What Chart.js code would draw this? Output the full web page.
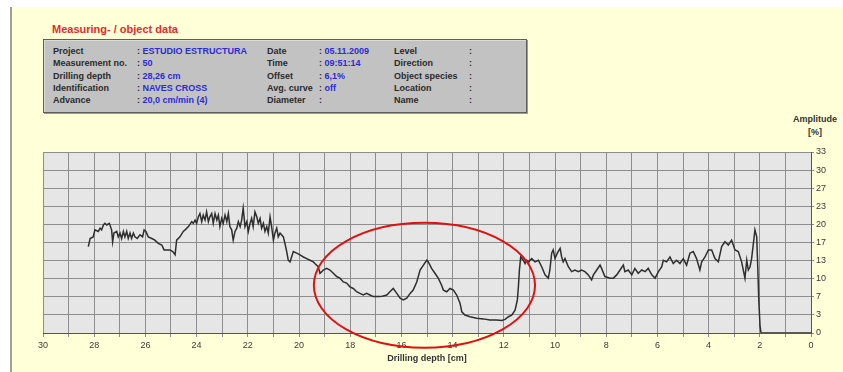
<!DOCTYPE html>
<html>
<head>
<meta charset="utf-8">
<script src="https://cdn.jsdelivr.net/npm/chart.js@4.4.1/dist/chart.umd.min.js"></script>
<style>
  html, body { margin: 0; padding: 0; background: #fff; width: 843px; height: 372px; overflow: hidden; }
  #page { position: absolute; left: 10px; top: 7px; width: 833px; height: 365px; background: #ffffd8; border-left: 2px solid #a0a090; box-sizing: border-box; }
  #heading { position: absolute; left: 52px; top: 23px; color: #e62a2a; font: bold 11px "Liberation Sans", Arial, sans-serif; }
  #infobox { position: absolute; left: 43px; top: 39px; width: 484px; height: 74px; background: #c2c2c2; border: 1px solid #5e5e5e; box-shadow: inset 1px 1px 0 #dadada, 1px 1px 0 #9a9a9a; box-sizing: border-box; }
  .cell { position: absolute; font: bold 9px "Liberation Sans", Arial, sans-serif; line-height: 12px; white-space: nowrap; color: #2a2a2a; }
  .val { color: #2b2bd6; }
  .axlabel { position: absolute; font: bold 9px "Liberation Sans", Arial, sans-serif; line-height: 13px; color: #333; text-align: center; }
  canvas { position: absolute; left: 0; top: 0; }
</style>
</head>
<body>
<div id="page"></div>
<div id="heading">Measuring- / object data</div>
<div id="infobox"></div>
<div class="axlabel" style="left:787px;top:113px;width:56px;">Amplitude<br>[%]</div>
<canvas id="chart" width="843" height="372"></canvas>
<script>
const depth = [
  28.23, 28.16, 28.04, 27.97, 27.84, 27.77, 27.71, 27.64, 27.58, 27.51, 27.41, 27.32, 27.28, 27.23, 27.12, 27.06,
  26.99, 26.93, 26.86, 26.80, 26.73, 26.67, 26.60, 26.54, 26.47, 26.41, 26.32, 26.21, 26.11, 26.05,
  25.98, 25.89, 25.75, 25.63, 25.50, 25.36, 25.27, 25.17, 25.04,
  24.93, 24.84, 24.78, 24.65, 24.52, 24.45, 24.32, 24.19, 24.13, 24.06, 24.00,
  23.93, 23.87, 23.80, 23.74, 23.67, 23.61, 23.54, 23.48, 23.41, 23.35, 23.28, 23.21, 23.15, 23.09, 23.02,
  22.96, 22.89, 22.82, 22.76, 22.70, 22.63, 22.57, 22.50, 22.43, 22.37, 22.30, 22.24, 22.18, 22.11, 22.04,
  21.98, 21.91, 21.85, 21.79, 21.72, 21.65, 21.59, 21.52, 21.46, 21.39, 21.33, 21.26, 21.20, 21.13, 21.07,
  21.00, 20.94, 20.87, 20.81, 20.74, 20.61, 20.55, 20.48, 20.42, 20.35, 20.29, 20.22, 20.09,
  19.96, 19.83, 19.70, 19.57, 19.44, 19.38, 19.25, 19.18, 19.11, 19.05,
  18.92, 18.79, 18.66, 18.53, 18.40, 18.27, 18.14, 18.01,
  17.88, 17.75, 17.62, 17.49, 17.36, 17.23, 17.10,
  16.96, 16.84, 16.71, 16.57, 16.45, 16.32, 16.18, 16.05,
  15.93, 15.79, 15.66, 15.54, 15.40, 15.27, 15.14, 15.01,
  14.95, 14.82, 14.69, 14.56, 14.43, 14.36, 14.23, 14.10,
  13.97, 13.84, 13.71, 13.64, 13.52, 13.32, 13.06,
  12.80, 12.54, 12.28, 12.08,
  11.95, 11.82, 11.69, 11.56, 11.47, 11.43, 11.39, 11.34, 11.24, 11.17, 11.11, 11.04,
  10.91, 10.78, 10.65, 10.52, 10.39, 10.26, 10.20, 10.13, 10.07,
  10.00, 9.91, 9.80, 9.74, 9.68, 9.61, 9.48, 9.35, 9.22, 9.09,
  8.96, 8.83, 8.70, 8.57, 8.50, 8.37, 8.24, 8.18, 8.05,
  7.85, 7.72, 7.59, 7.46, 7.33, 7.27, 7.14, 7.00,
  6.88, 6.75, 6.61, 6.48, 6.36, 6.22, 6.09,
  5.96, 5.83, 5.77, 5.64, 5.51, 5.38, 5.25, 5.12,
  4.99, 4.86, 4.73, 4.60, 4.47, 4.34, 4.27, 4.14, 4.01,
  3.88, 3.75, 3.62, 3.49, 3.36, 3.23, 3.10,
  2.97, 2.84, 2.71, 2.58, 2.51, 2.45, 2.38, 2.32, 2.25, 2.19, 2.12, 2.08, 2.04,
  1.99, 1.95, 0
]
const amplitude = [
  15.9, 17.4, 17.7, 19.0, 18.7, 19.3, 19.0, 19.9, 20.2, 19.9, 20.2, 19.0, 16.8, 18.4, 18.7, 17.7,
  18.4, 17.4, 18.7, 17.7, 18.7, 17.4, 18.4, 17.4, 18.4, 17.7, 17.4, 18.1, 17.7, 19.0,
  18.7, 17.7, 17.4, 17.1, 16.5, 16.2, 15.3, 15.3, 15.3,
  15.0, 14.4, 17.1, 17.7, 18.7, 19.0, 19.6, 20.5, 20.2, 20.8, 20.2,
  21.4, 22.0, 20.5, 21.7, 20.8, 22.3, 20.5, 21.4, 22.0, 20.2, 22.0, 20.8, 21.7, 19.6, 21.1,
  20.2, 21.7, 20.5, 22.0, 19.6, 19.0, 17.1, 18.7, 19.3, 20.5, 19.6, 20.8, 23.0, 19.6, 20.5,
  18.7, 20.2, 21.1, 19.6, 22.3, 21.4, 20.2, 21.1, 19.3, 20.2, 18.7, 19.6, 18.4, 21.4, 19.6,
  17.1, 18.4, 19.3, 17.7, 18.4, 17.7, 16.5, 15.0, 13.4, 13.1, 14.0, 15.0, 14.7,
  14.4, 14.0, 13.7, 13.4, 13.1, 12.8, 12.2, 11.0, 11.3, 11.6,
  11.9, 11.6, 11.0, 10.4, 10.1, 9.4, 9.2, 8.5,
  8.2, 7.6, 7.3, 7.0, 7.3, 7.0, 6.7,
  6.7, 6.7, 6.8, 7.0, 7.6, 8.2, 7.3, 6.4,
  6.1, 6.4, 7.3, 7.9, 9.4, 11.6, 12.5, 13.4,
  13.1, 11.9, 11.0, 10.1, 8.8, 7.9, 7.6, 8.2,
  7.9, 7.0, 5.5, 3.9, 3.3, 3.0, 2.7,
  2.6, 2.4, 2.4, 2.3,
  2.5, 3.0, 3.3, 4.2, 6.1, 8.5, 11.6, 14.0, 13.4, 12.8, 13.4, 13.1,
  13.7, 13.1, 13.4, 12.2, 10.7, 10.1, 11.6, 14.7, 15.3,
  13.7, 14.7, 15.6, 14.0, 13.1, 13.7, 12.2, 11.3, 11.6, 11.3,
  11.6, 11.3, 10.7, 9.8, 10.7, 11.6, 12.5, 11.9, 10.4,
  10.1, 10.1, 10.7, 11.6, 12.5, 11.3, 11.6, 10.7,
  11.9, 11.0, 11.6, 11.3, 11.9, 10.7, 10.1,
  11.3, 12.2, 13.4, 13.1, 14.0, 12.8, 13.4, 12.8,
  13.7, 12.5, 14.7, 15.0, 13.7, 11.6, 13.1, 14.0, 15.3,
  15.3, 13.7, 13.1, 15.9, 16.8, 16.2, 17.1,
  15.3, 15.0, 13.1, 10.1, 13.4, 11.6, 12.2, 13.7, 16.5, 19.0, 17.7, 12.2, 6.1,
  1.2, 0, 0
]

const xMin = 0
const xMax = 30
const yMax = 100 / 3
const yTickLabels = ['0', '3', '7', '10', '13', '17', '20', '23', '27', '30', '33']

// header box
const infoGroups = [
  { labelX: 9, colonX: 93, rows: [['Project', 'ESTUDIO ESTRUCTURA'], ['Measurement no.', '50'], ['Drilling depth', '28,26 cm'], ['Identification', 'NAVES CROSS'], ['Advance', '20,0 cm/min (4)']] },
  { labelX: 223, colonX: 275, rows: [['Date', '05.11.2009'], ['Time', '09:51:14'], ['Offset', '6,1%'], ['Avg. curve', 'off'], ['Diameter', '']] },
  { labelX: 350, colonX: 425, rows: [['Level', ''], ['Direction', ''], ['Object species', ''], ['Location', ''], ['Name', '']] }
]

const box = document.getElementById('infobox')
infoGroups.forEach(g => {
  g.rows.forEach((r, i) => {
    const top = 5 + i * 12.3
    const lab = document.createElement('div')
    lab.className = 'cell'
    lab.style.left = g.labelX + 'px'
    lab.style.top = top + 'px'
    lab.textContent = r[0]
    box.appendChild(lab)
    const val = document.createElement('div')
    val.className = 'cell'
    val.style.left = g.colonX + 'px'
    val.style.top = top + 'px'
    val.innerHTML = ': <span class="val">' + r[1] + '</span>'
    box.appendChild(val)
  })
})

const plotBg = {
  id: 'plotBg',
  beforeDraw(chart) {
    const { ctx, chartArea: a } = chart
    ctx.save()
    ctx.fillStyle = '#e6e6e6'
    ctx.fillRect(a.left, a.top, a.right - a.left, a.bottom - a.top)
    ctx.restore()
  }
}

// red marking round the zone of interest
const marker = {
  id: 'marker',
  afterDraw(chart) {
    const { ctx, scales: { x, y } } = chart
    const cx = x.getPixelForValue(15.1)
    const cy = y.getPixelForValue(8.8)
    const rx = Math.abs(x.getPixelForValue(15.1 + 4.32) - cx)
    const ry = Math.abs(y.getPixelForValue(8.8 + 11.5) - cy)
    ctx.save()
    ctx.strokeStyle = '#e01010'
    ctx.lineWidth = 2
    ctx.beginPath()
    ctx.ellipse(cx, cy, rx, ry, 0, 0, Math.PI * 2)
    ctx.stroke()
    ctx.restore()
  }
}

const tickFont = { family: '"Liberation Sans Narrow", "Liberation Sans", Arial, sans-serif', size: 9 }

new Chart(document.getElementById('chart'), {
  type: 'line',
  data: {
    datasets: [{
      data: depth.map((d, i) => ({ x: d, y: amplitude[i] })),
      borderColor: '#2e2e2e',
      borderWidth: 1.5,
      pointRadius: 0,
      tension: 0
    }]
  },
  options: {
    responsive: false,
    animation: false,
    layout: { padding: { left: 43, top: 152, right: 0, bottom: 0 } },
    plugins: { legend: { display: false }, tooltip: { enabled: false } },
    scales: {
      x: {
        type: 'linear',
        reverse: true,
        min: xMin,
        max: xMax,
        afterFit: s => { s.height = 39 },
        ticks: {
          stepSize: 1,
          autoSkip: false,
          maxRotation: 0,
          padding: 3,
          color: '#3a3a3a',
          font: tickFont,
          callback: v => (v % 2 === 0 ? String(v) : '')
        },
        grid: { color: '#8e8e8e', tickLength: 4 },
        border: { color: '#555' },
        title: {
          display: true,
          text: 'Drilling depth [cm]',
          color: '#333',
          font: { family: '"Liberation Sans", Arial, sans-serif', size: 9, weight: 'bold' },
          padding: { top: 0, bottom: 8 }
        }
      },
      y: {
        position: 'right',
        min: 0,
        max: yMax,
        afterFit: s => { s.width = 32 },
        afterBuildTicks: s => { s.ticks = yTickLabels.map((t, i) => ({ value: i * yMax / 10 })) },
        ticks: {
          padding: 2,
          color: '#3a3a3a',
          font: tickFont,
          callback: (v, i) => yTickLabels[i]
        },
        grid: { color: '#8e8e8e', tickLength: 3 },
        border: { color: '#555' }
      }
    }
  },
  plugins: [plotBg, marker]
})
</script>
</body>
</html>
